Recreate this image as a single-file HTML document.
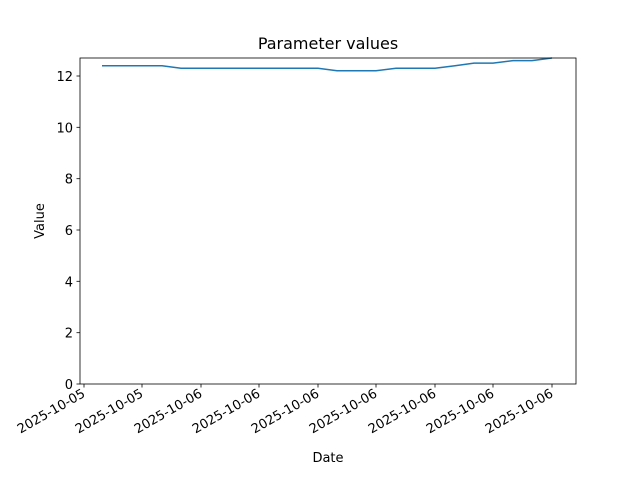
<!DOCTYPE html>
<html><head><meta charset="utf-8"><style>body{margin:0;background:#fff}svg{display:block}</style></head><body>
<svg width="640" height="480" viewBox="0 0 640 480" xmlns="http://www.w3.org/2000/svg" font-family="DejaVu Sans, Liberation Sans, sans-serif" font-size="13.3">
<rect width="640" height="480" fill="#fff"/>
<polyline fill="none" stroke="#1f77b4" stroke-width="1.5" points="102,65.7 122,65.7 142,65.7 162,65.7 181,68.3 201,68.3 220,68.3 240,68.3 259,68.3 279,68.3 298,68.3 318,68.3 337,70.8 357,70.8 376,70.8 396,68.3 415,68.3 435,68.3 455,65.7 474,63.1 493,63.1 513,60.6 532,60.6 552,58"/>
<rect x="80" y="58" width="496" height="326" fill="none" stroke="#000" stroke-width="0.8"/>
<g stroke="#000" stroke-width="0.8">
<line x1="80" y1="384" x2="76.5" y2="384"/><line x1="80" y1="332.7" x2="76.5" y2="332.7"/><line x1="80" y1="281.3" x2="76.5" y2="281.3"/><line x1="80" y1="230" x2="76.5" y2="230"/><line x1="80" y1="178.7" x2="76.5" y2="178.7"/><line x1="80" y1="127.3" x2="76.5" y2="127.3"/><line x1="80" y1="76" x2="76.5" y2="76"/>
<line x1="84" y1="384" x2="84" y2="387.5"/><line x1="142" y1="384" x2="142" y2="387.5"/><line x1="201" y1="384" x2="201" y2="387.5"/><line x1="259" y1="384" x2="259" y2="387.5"/><line x1="318" y1="384" x2="318" y2="387.5"/><line x1="376" y1="384" x2="376" y2="387.5"/><line x1="435" y1="384" x2="435" y2="387.5"/><line x1="493" y1="384" x2="493" y2="387.5"/><line x1="552" y1="384" x2="552" y2="387.5"/>
</g>
<g text-anchor="end" font-size="13">
<text x="73" y="389">0</text><text x="73" y="337.7">2</text><text x="73" y="286.3">4</text><text x="73" y="235">6</text><text x="73" y="183.7">8</text><text x="73" y="132.3">10</text><text x="73" y="81">12</text>
</g>
<g text-anchor="end" font-size="13">
<text transform="translate(86,396) rotate(-30)">2025-10-05</text>
<text transform="translate(144,396) rotate(-30)">2025-10-05</text>
<text transform="translate(203,396) rotate(-30)">2025-10-06</text>
<text transform="translate(261,396) rotate(-30)">2025-10-06</text>
<text transform="translate(320,396) rotate(-30)">2025-10-06</text>
<text transform="translate(378,396) rotate(-30)">2025-10-06</text>
<text transform="translate(437,396) rotate(-30)">2025-10-06</text>
<text transform="translate(495,396) rotate(-30)">2025-10-06</text>
<text transform="translate(554,396) rotate(-30)">2025-10-06</text>
</g>
<text x="328" y="462" text-anchor="middle" font-size="13">Date</text>
<text transform="translate(44,221) rotate(-90)" text-anchor="middle" font-size="13">Value</text>
<text x="328" y="49" text-anchor="middle" font-size="16">Parameter values</text>
</svg>
</body></html>
